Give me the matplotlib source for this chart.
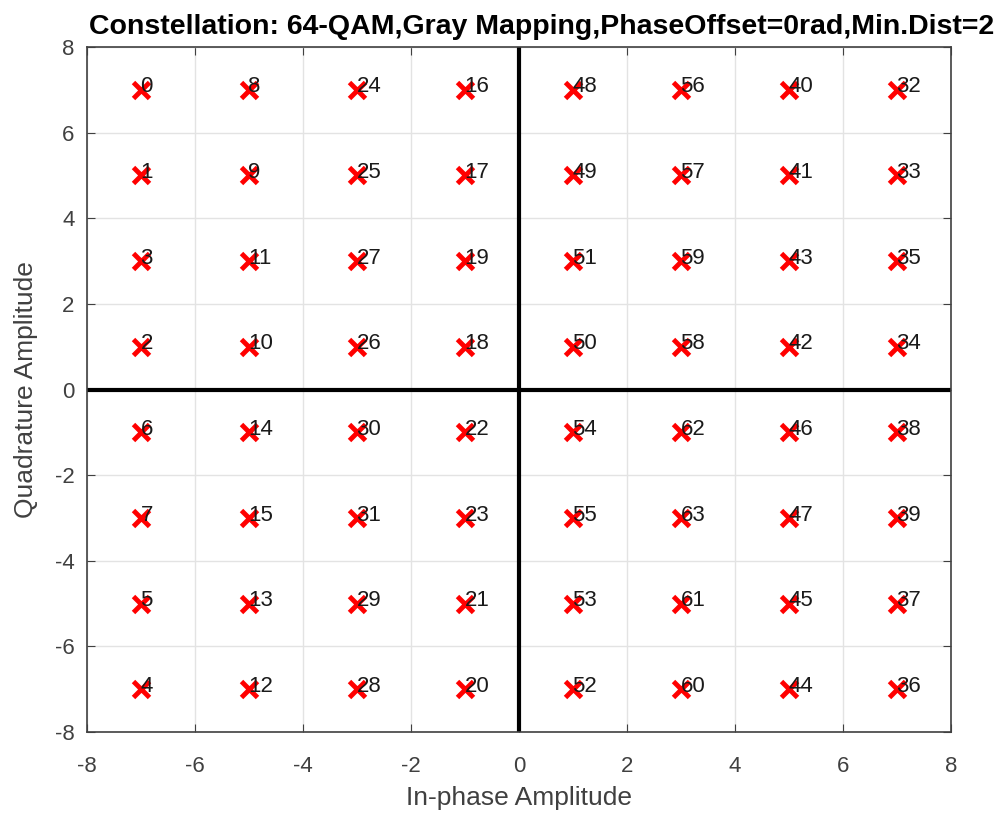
import matplotlib
matplotlib.use('Agg')
import matplotlib.pyplot as plt

# 64-QAM constellation, gray mapping
x_levels = [-7, -5, -3, -1, 1, 3, 5, 7]
y_levels = [7, 5, 3, 1, -1, -3, -5, -7]
# symbol numbers per column (x), top to bottom (y)
symbols = [
    [0, 1, 3, 2, 6, 7, 5, 4],
    [8, 9, 11, 10, 14, 15, 13, 12],
    [24, 25, 27, 26, 30, 31, 29, 28],
    [16, 17, 19, 18, 22, 23, 21, 20],
    [48, 49, 51, 50, 54, 55, 53, 52],
    [56, 57, 59, 58, 62, 63, 61, 60],
    [40, 41, 43, 42, 46, 47, 45, 44],
    [32, 33, 35, 34, 38, 39, 37, 36],
]
ticks = [-8, -6, -4, -2, 0, 2, 4, 6, 8]

plt.rcParams['font.family'] = ['Liberation Sans', 'DejaVu Sans']
plt.rcParams['axes.unicode_minus'] = False
grey = '#404040'

fig = plt.figure(figsize=(10, 8.18), dpi=100)
ax = fig.add_axes([0.087, 0.105, 0.864, 0.8375])

xs, ys = [], []
for i, xv in enumerate(x_levels):
    for j, yv in enumerate(y_levels):
        xs.append(xv)
        ys.append(yv)
        ax.text(xv - 0.01, yv + 0.07, str(symbols[i][j]), fontsize=16,
                color='#1a1a1a', va='center', ha='left', zorder=4)

ax.axhline(0, color='black', lw=3, zorder=2)
ax.axvline(0, color='black', lw=3, zorder=2)
ax.plot(xs, ys, 'x', color='red', markersize=11, markeredgewidth=3.5,
        linestyle='none', zorder=3)

ax.set_xlim(-8, 8)
ax.set_ylim(-8, 8)
ax.set_xticks(ticks)
ax.set_yticks(ticks)
ax.tick_params(direction='in', length=6, colors=grey, labelsize=16,
               top=True, right=True)
ax.tick_params(axis='x', pad=17)
ax.tick_params(axis='y', pad=9)
ax.grid(True, color='#e3e3e3', lw=1)
ax.set_axisbelow(True)
for s in ax.spines.values():
    s.set_color(grey)
    s.set_linewidth(1.2)

ax.set_xlabel('In-phase Amplitude', fontsize=19, color=grey, labelpad=7)
ax.set_ylabel('Quadrature Amplitude', fontsize=19, color=grey, labelpad=12)
fig.text(0.542, 0.967, 'Constellation: 64-QAM,Gray Mapping,PhaseOffset=0rad,Min.Dist=2',
         fontsize=20.5, fontweight='bold', color='black', ha='center', va='center')

fig.savefig('out.png', dpi=100)
